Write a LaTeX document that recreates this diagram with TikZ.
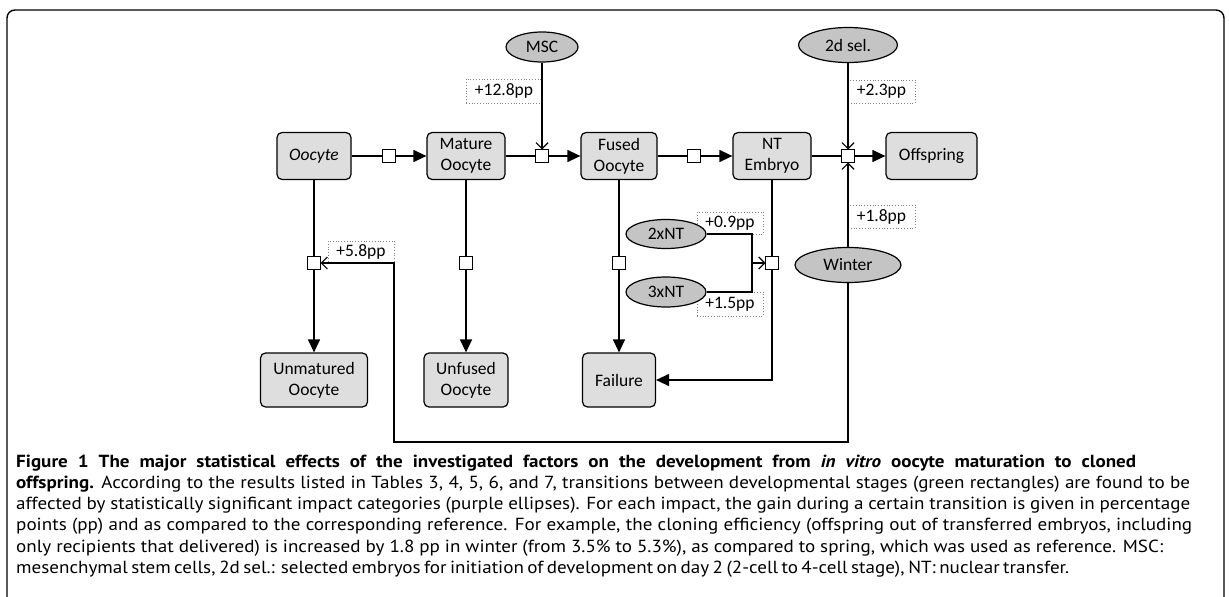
\documentclass[tikz,border=0pt]{standalone}
\usepackage{fontspec}
\setmainfont{PT Sans}
\newfontfamily\capfont{PT Sans}[FakeStretch=1.09]
\newfontfamily\diagfont{Carlito}
\usetikzlibrary{shapes.geometric,arrows.meta}
\definecolor{boxgray}{HTML}{DEDEDE}
\definecolor{ellgray}{HTML}{C4C4C4}
\definecolor{dotgray}{HTML}{808080}
\begin{document}
\begin{tikzpicture}[x=1pt,y=-1pt,
  stage/.style={draw, rounded corners=5pt, line width=1.2pt, fill=boxgray, align=center,
    font=\diagfont\fontsize{17.5}{21}\selectfont, inner sep=0pt, minimum height=47pt},
  impact/.style={draw, ellipse, line width=1.2pt, fill=ellgray, inner sep=0pt,
    font=\diagfont\fontsize{17.5}{21}\selectfont},
  junc/.style={draw, rectangle, fill=white, line width=1pt, minimum size=12pt, inner sep=0pt},
  gain/.style={draw=dotgray, dotted, line width=0.8pt, inner sep=0pt,
    font=\diagfont\fontsize{17.5}{21}\selectfont},
  link/.style={line width=1.2pt},
  flow/.style={line width=1.2pt, -{Triangle[length=13pt,width=12pt]}},
  effect/.style={line width=1.2pt, -{Straight Barb[length=6pt,width=12pt]}},
  capline/.style={anchor=base west, inner sep=0pt, font=\capfont\fontsize{17.5}{21.3}\selectfont},
]
\useasboundingbox (0,0) rectangle (1229,597);
% frame
\draw[line width=1.4pt, rounded corners=8pt] (7,620) -- (7,10) -- (1224,10) -- (1224,620);

% gain labels
\node[gain, minimum width=76pt, minimum height=24pt] (g128) at (504,91) {+12.8pp};
\node[gain, minimum width=67pt, minimum height=23pt] (g23) at (881.5,91.5) {+2.3pp};
\node[gain, minimum width=67pt, minimum height=23pt] (g18) at (881.5,216.5) {+1.8pp};
\node[gain, minimum width=66pt, minimum height=22pt] (g58) at (361,252) {+5.8pp};
\node[gain, minimum width=66pt, minimum height=22pt] (g09) at (730,223) {+0.9pp};
\node[gain, minimum width=66pt, minimum height=24pt] (g15) at (730,304) {+1.5pp};

% stages
\node[stage, minimum width=74pt] (oocyte) at (314,156) {\itshape Oocyte};
\node[stage, minimum width=78pt] (mature) at (466,156) {Mature\\Oocyte};
\node[stage, minimum width=76pt] (fused) at (619,156) {Fused\\Oocyte};
\node[stage, minimum width=78pt] (nt) at (772,156) {NT\\Embryo};
\node[stage, minimum width=91pt] (offspring) at (931.5,156) {Offspring};
\node[stage, minimum width=107pt, minimum height=54pt] (unmatured) at (314,380) {Unmatured\\Oocyte};
\node[stage, minimum width=84pt, minimum height=54pt] (unfused) at (466,380) {Unfused\\Oocyte};
\node[stage, minimum width=73pt, minimum height=54pt] (failure) at (619,380) {Failure};

% impacts
\node[impact, minimum width=72pt, minimum height=30pt] (msc) at (542,47) {MSC};
\node[impact, minimum width=99pt, minimum height=35pt] (sel) at (848,45) {2d sel.};
\node[impact, minimum width=106pt, minimum height=35pt] (winter) at (848,265) {Winter};
\node[impact, minimum width=80pt, minimum height=29pt] (nt2) at (666,234) {2xNT};
\node[impact, minimum width=80pt, minimum height=30pt] (nt3) at (666,292) {3xNT};

% junctions
\node[junc] (j1) at (389,156) {};
\node[junc] (j2) at (542,156) {};
\node[junc] (j3) at (694,156) {};
\node[junc] (j4) at (848,156) {};
\node[junc] (j5) at (314,263) {};
\node[junc] (j6) at (466,263) {};
\node[junc] (j7) at (619,263) {};
\node[junc] (j8) at (772,263) {};

% main flow
\draw[link] (oocyte) -- (j1); \draw[flow] (j1) -- (mature);
\draw[link] (mature) -- (j2); \draw[flow] (j2) -- (fused);
\draw[link] (fused) -- (j3); \draw[flow] (j3) -- (nt);
\draw[link] (nt) -- (j4); \draw[flow] (j4) -- (offspring);
\draw[link] (oocyte) -- (j5); \draw[flow] (j5) -- (unmatured);
\draw[link] (mature) -- (j6); \draw[flow] (j6) -- (unfused);
\draw[link] (fused) -- (j7); \draw[flow] (j7) -- (failure);
\draw[link] (nt) -- (j8); \draw[flow] (j8.south) |- (failure.east);

% effects
\draw[effect] (msc) -- (j2);
\draw[effect] (sel) -- (j4);
\draw[effect] (winter) -- (j4);
\coordinate (wb) at (848,442);
\coordinate (wl) at (394,442);
\coordinate (wt) at (394,263);
\draw[effect] (winter.south) -- (wb) -- (wl) -- (wt) -- (j5);
\coordinate (nj) at (752,263);
\draw[link] (nt2.east) -| (nj);
\draw[link] (nt3.east) -| (nj);
\draw[effect] (nj) -- (j8);

% redraw junctions on top
\foreach \j in {j1,j2,j3,j4,j5,j6,j7,j8}{\draw[line width=1pt, fill=white] (\j.south west) rectangle (\j.north east);}

% caption
\node[capline] (cap1) at (16,467) {\makebox[1120pt][s]{\bfseries Figure 1 The major statistical effects of the investigated factors on the development from \textit{in vitro} oocyte maturation to cloned}};
\node[capline] (cap2) at (16,488.3) {\makebox[1174pt][s]{\textbf{offspring.} According to the results listed in Tables 3, 4, 5, 6, and 7, transitions between developmental stages (green rectangles) are found to be}};
\node[capline] (cap3) at (16,509.6) {\makebox[1174pt][s]{affected by statistically significant impact categories (purple ellipses). For each impact, the gain during a certain transition is given in percentage}};
\node[capline] (cap4) at (16,530.9) {\makebox[1176pt][s]{points (pp) and as compared to the corresponding reference. For example, the cloning efficiency (offspring out of transferred embryos, including}};
\node[capline] (cap5) at (16,552.2) {\makebox[1147pt][s]{only recipients that delivered) is increased by 1.8 pp in winter (from 3.5\% to 5.3\%), as compared to spring, which was used as reference. MSC:}};
\node[capline] (cap6) at (16,573.5) {\makebox[934pt][s]{mesenchymal stem cells, 2d sel.: selected embryos for initiation of development on day 2 (2-cell to 4-cell stage), NT: nuclear transfer.}};
\end{tikzpicture}
\end{document}
